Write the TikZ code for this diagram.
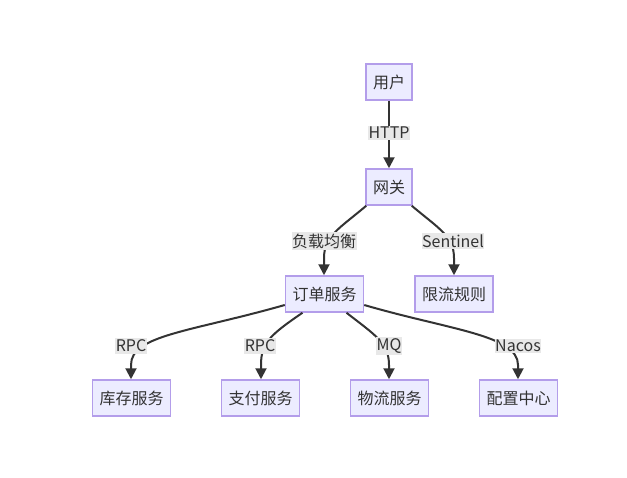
\documentclass[tikz,border=0pt]{standalone}
\usepackage{fontspec}
\setmainfont{Noto Sans CJK SC}
\usetikzlibrary{arrows.meta}
\definecolor{nfill}{HTML}{ECECFF}
\definecolor{nline}{HTML}{B39DEA}
\definecolor{ink}{HTML}{333333}
\definecolor{lblbg}{HTML}{E8E8E8}
\tikzset{
  box/.style={draw=nline, line width=1.5pt, fill=nfill, text=ink, minimum height=36pt, inner xsep=7pt, inner ysep=0pt, font=\fontsize{16}{19}\selectfont},
  lbl/.style={fill=lblbg, text=ink, inner xsep=0.5pt, inner ysep=1.5pt, font=\fontsize{16}{19}\selectfont},
  conn/.style={draw=ink, line width=2pt, -{Triangle[length=11pt,width=11pt]}}
}
\begin{document}
\begin{tikzpicture}[x=1pt,y=-1pt]
\useasboundingbox (0,0) rectangle (627,477);
\node[box] (u) at (389,82) {用户};
\node[box] (g) at (389,187) {网关};
\node[box] (o) at (324.5,294) {订单服务};
\node[box] (r) at (454,294) {限流规则};
\node[box] (s1) at (131.5,398) {库存服务};
\node[box] (s2) at (260.5,398) {支付服务};
\node[box] (s3) at (389.5,398) {物流服务};
\node[box] (s4) at (518.5,398) {配置中心};

\draw[conn] (u.south) -- (g.north);
\node[lbl] (l1) at (389,133) {HTTP};

\draw[conn] (g.south west) ++(1,0) .. controls (340,228) and (324,236) .. (324,258) -- (o.north -| 324,0);
\node[lbl] (l2) at (324,241) {负载均衡};

\draw[conn] (g.south east) ++(-1,0) .. controls (438,228) and (454,236) .. (454,258) -- (r.north);
\node[lbl] (l3) at (453,241) {Sentinel};

\draw[conn] (o.west) ++(0,11) .. controls (190,332) and (131,335) .. (131,365) -- (s1.north -| 131,0);
\node[lbl] (l4) at (131,346) {RPC};

\draw[conn] (o.south) ++(-22,0) .. controls (270,335) and (261,343) .. (261,365) -- (s2.north -| 261,0);
\node[lbl] (l5) at (260,346) {RPC};

\draw[conn] (o.south) ++(22,0) .. controls (375,335) and (389,343) .. (389,365) -- (s3.north -| 389,0);
\node[lbl] (l6) at (389,346) {MQ};

\draw[conn] (o.east) ++(0,11) .. controls (450,330) and (518,335) .. (518,365) -- (s4.north -| 518,0);
\node[lbl] (l7) at (518,346) {Nacos};
\end{tikzpicture}
\end{document}
